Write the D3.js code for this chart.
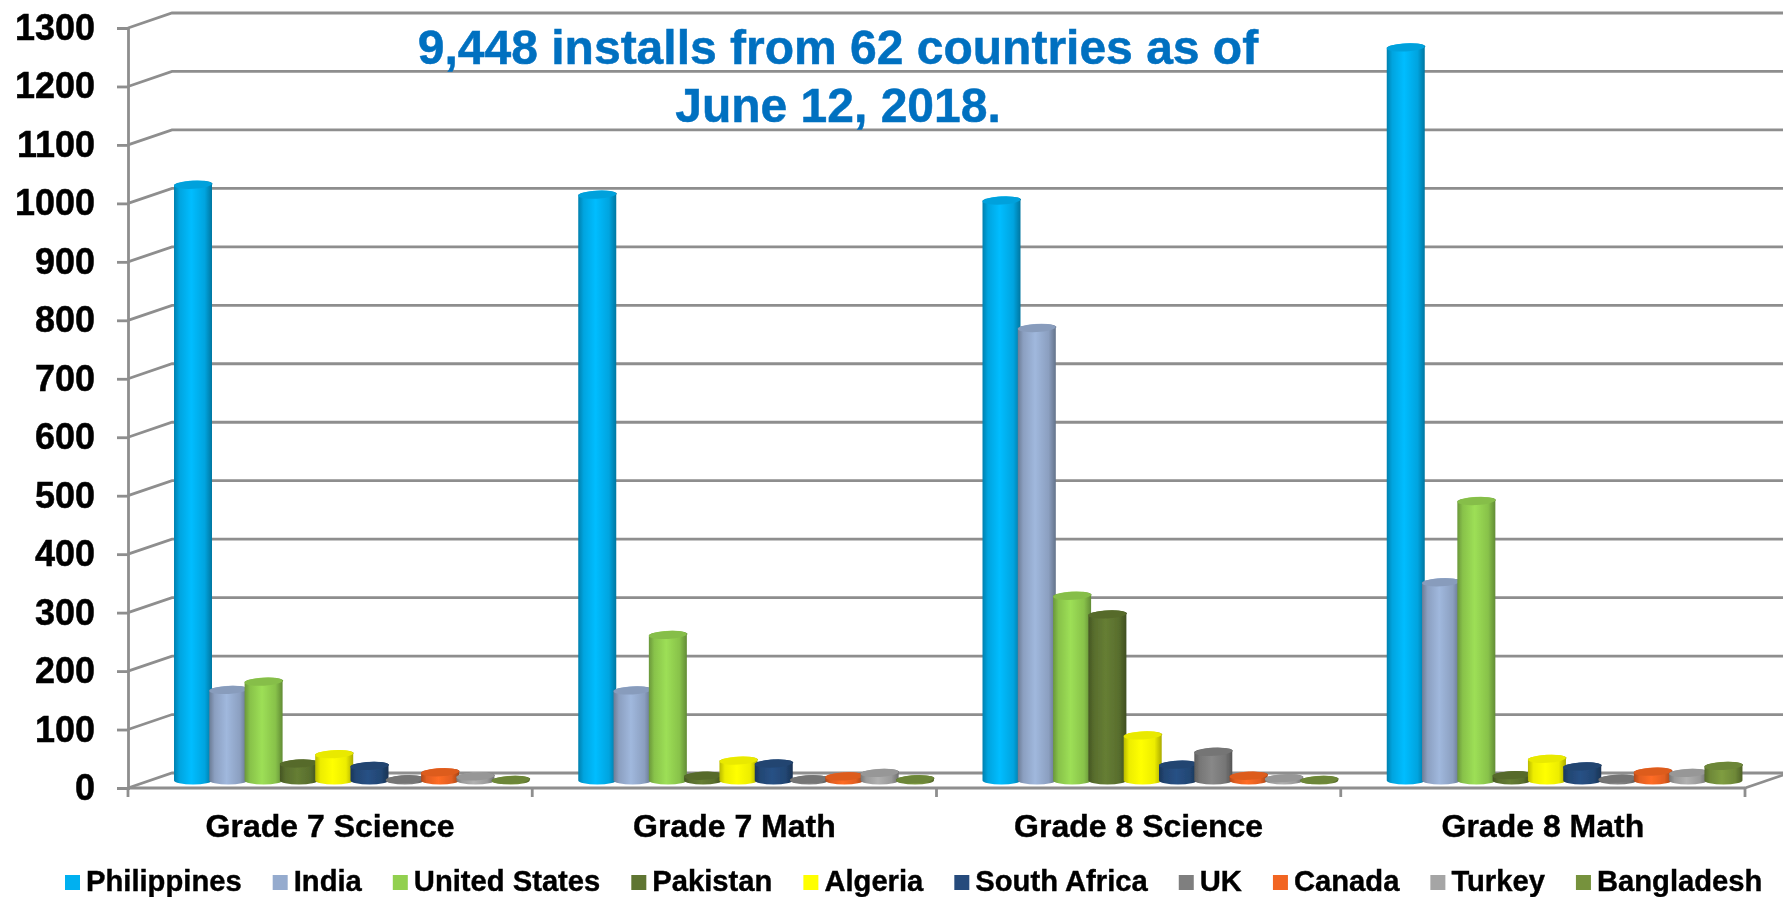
<!DOCTYPE html>
<html>
<head>
<meta charset="utf-8">
<script src="https://cdn.jsdelivr.net/npm/d3@7"></script>
<style>
    html, body { margin: 0; padding: 0; background: #fff; overflow: hidden; }
    svg { display: block; font-family: "Liberation Sans", Arial, sans-serif; font-weight: bold; }
</style>
</head>
<body>
<div id="viz"></div>
<script>
//Datos
const categories = ['Grade 7 Science', 'Grade 7 Math', 'Grade 8 Science', 'Grade 8 Math'];
const countries = ['Philippines', 'India', 'United States', 'Pakistan', 'Algeria', 'South Africa', 'UK', 'Canada', 'Turkey', 'Bangladesh'];
const philippines = [1019, 1002, 992, 1254];
const india = [155, 154, 774, 339];
const unitedStates = [169, 249, 316, 478];
const pakistan = [29, 8, 284, 9];
const algeria = [45, 34, 77, 37];
const southAfrica = [25, 29, 27, 24];
const uk = [2, 2, 49, 3];
const canada = [14, 7, 8, 15];
const turkey = [7, 13, 4, 13];
const bangladesh = [1, 2, 1, 25];
const seriesValues = [philippines, india, unitedStates, pakistan, algeria, southAfrica, uk, canada, turkey, bangladesh];
const yTicks = [0, 100, 200, 300, 400, 500, 600, 700, 800, 900, 1000, 1100, 1200, 1300];
const titleLines = ['9,448 installs from 62 countries as of', 'June 12, 2018.'];

//Colores fijos
const COLOR_GRID = '#8e8e8e', COLOR_TITLE = '#0070C0';
const COLORS = ['#00B0F0', '#95ABCE', '#92D050', '#5F7530', '#FFFF00', '#254B7C', '#7F7F7F', '#F26522', '#A5A5A5', '#76923C'];

const width = 1783, height = 898;
const depthX = 44, depthY = 15;
const barWidth = 38, ry = 4;

let svg = d3.select('#viz').append('svg')
    .attr('width', width)
    .attr('height', height);

let defs = svg.append('defs');
defs.append('filter').attr('id', 'soft')
    .append('feGaussianBlur').attr('stdDeviation', 0.6);

//Degradado de cada cilindro
COLORS.forEach(function(c, i) {
    let base = d3.color(c);
    let g = defs.append('linearGradient').attr('id', 'cyl' + i);
    g.append('stop').attr('offset', '0%').attr('stop-color', base.darker(0.9));
    g.append('stop').attr('offset', '14%').attr('stop-color', base.darker(0.2));
    g.append('stop').attr('offset', '45%').attr('stop-color', base.brighter(0.2));
    g.append('stop').attr('offset', '80%').attr('stop-color', base.darker(0.2));
    g.append('stop').attr('offset', '100%').attr('stop-color', base.darker(1.2));
});

let y = d3.scaleLinear().domain([0, 1300]).range([788, 28]);
let x = d3.scaleBand().domain(categories).range([128, 1745]);
let xSeries = d3.scaleBand().domain(countries).range([46, 399]);

let chart = svg.append('g').attr('filter', 'url(#soft)');

///// PAREDES Y REJILLA
let grid = chart.append('g')
    .attr('fill', 'none')
    .attr('stroke', COLOR_GRID)
    .attr('stroke-width', 2.8);

grid.selectAll('polyline.grid')
    .data(yTicks)
    .enter()
    .append('polyline')
    .attr('class', 'grid')
    .attr('points', function(d) {
        return [[x.range()[0], y(d)], [x.range()[0] + depthX, y(d) - depthY], [width, y(d) - depthY]].join(' ');
    });

//Suelo
grid.append('polyline')
    .attr('points', [[x.range()[1], y(0)], [x.range()[1] + depthX, y(0) - depthY]].join(' '));
grid.append('line')
    .attr('x1', x.range()[0]).attr('x2', x.range()[1])
    .attr('y1', y(0)).attr('y2', y(0));

//Marcas entre categorías
grid.selectAll('line.catTick')
    .data(categories.concat(['end']))
    .enter()
    .append('line')
    .attr('class', 'catTick')
    .attr('x1', function(d) { return d == 'end' ? x.range()[1] : x(d); })
    .attr('x2', function(d) { return d == 'end' ? x.range()[1] : x(d); })
    .attr('y1', y(0))
    .attr('y2', y(0) + 9);

///// EJES
let yAxis = chart.append('g')
    .attr('transform', 'translate(' + x.range()[0] + ',0)')
    .call(d3.axisLeft(y).tickValues(yTicks).tickSize(11).tickPadding(22).tickFormat(d3.format('d')));
yAxis.selectAll('path, line').attr('stroke', COLOR_GRID).attr('stroke-width', 2.8);
yAxis.selectAll('text')
    .attr('font-family', '"Liberation Sans", Arial, sans-serif')
    .attr('font-size', 36)
    .attr('font-weight', 'bold')
    .attr('fill', '#000')
    .attr('stroke', '#000')
    .attr('stroke-width', 0.5);

let xAxis = chart.append('g')
    .attr('transform', 'translate(0,' + y(0) + ')')
    .call(d3.axisBottom(x).tickSize(0).tickPadding(26));
xAxis.select('path').remove();
xAxis.selectAll('text')
    .attr('font-family', '"Liberation Sans", Arial, sans-serif')
    .attr('font-size', 32)
    .attr('font-weight', 'bold')
    .attr('fill', '#000')
    .attr('stroke', '#000')
    .attr('stroke-width', 0.4);

///// CILINDROS
function cylinder(v) {
    let yBase = y(0) - depthY / 2, yTop = y(v) - depthY / 2;
    let r = barWidth / 2;
    return 'M0,' + yTop +
        'L0,' + yBase +
        'A' + r + ',' + ry + ' 0 0 0 ' + barWidth + ',' + yBase +
        'L' + barWidth + ',' + yTop +
        'A' + r + ',' + ry + ' -3 0 0 0,' + yTop + 'Z';
}

let bars = chart.append('g');
categories.forEach(function(cat, c) {
    countries.forEach(function(name, s) {
        let v = seriesValues[s][c];
        let cx = x(cat) + xSeries(name);
        let b = bars.append('g').attr('transform', 'translate(' + cx + ',0)');
        b.append('path')
            .attr('d', cylinder(v))
            .attr('fill', 'url(#cyl' + s + ')');
        b.append('ellipse')
            .attr('cx', barWidth / 2)
            .attr('cy', y(v) - depthY / 2)
            .attr('rx', barWidth / 2)
            .attr('ry', ry)
            .attr('transform', 'rotate(-3,' + (barWidth / 2) + ',' + (y(v) - depthY / 2) + ')')
            .attr('fill', d3.color(COLORS[s]).darker(0.25));
    });
});

///// TÍTULO
chart.append('g').selectAll('text')
    .data(titleLines)
    .enter()
    .append('text')
    .attr('x', 838)
    .attr('y', function(d, i) { return 64 + i * 58; })
    .attr('text-anchor', 'middle')
    .attr('font-size', 48)
    .attr('fill', COLOR_TITLE)
    .attr('stroke', COLOR_TITLE)
    .attr('stroke-width', 0.5)
    .text(function(d) { return d; });

///// LEYENDA
let legend = chart.append('g');
let legendX = 65;
countries.forEach(function(name, i) {
    legend.append('rect')
        .attr('x', legendX).attr('y', 875)
        .attr('width', 15).attr('height', 15)
        .attr('fill', COLORS[i]);
    let t = legend.append('text')
        .attr('x', legendX + 21).attr('y', 890.5)
        .attr('font-size', 29.2)
        .attr('fill', '#000')
        .attr('stroke', '#000')
        .attr('stroke-width', 0.4)
        .text(name);
    legendX += 21 + t.node().getComputedTextLength() + 31;
});
</script>
</body>
</html>
